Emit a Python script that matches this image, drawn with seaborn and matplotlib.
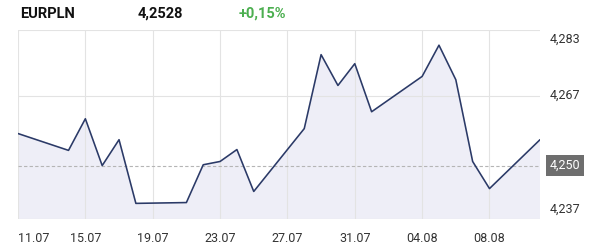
import matplotlib
matplotlib.use("Agg")
import matplotlib.pyplot as plt
import seaborn as sns
import pandas as pd

dates = ["2025-07-11", "2025-07-14", "2025-07-15", "2025-07-16", "2025-07-17",
         "2025-07-18", "2025-07-21", "2025-07-22", "2025-07-23", "2025-07-24",
         "2025-07-25", "2025-07-28", "2025-07-29", "2025-07-30", "2025-07-31",
         "2025-08-01", "2025-08-04", "2025-08-05", "2025-08-06", "2025-08-07",
         "2025-08-08", "2025-08-11"]
values = [4.2578, 4.2537, 4.2614, 4.2500, 4.2563,
          4.2408, 4.2410, 4.2502, 4.2510, 4.2539,
          4.2437, 4.2590, 4.2770, 4.2695, 4.2748,
          4.2631, 4.2717, 4.2793, 4.2709, 4.2510,
          4.2444, 4.2563]
tick_dates = ["2025-07-11", "2025-07-15", "2025-07-19", "2025-07-23",
              "2025-07-27", "2025-07-31", "2025-08-04", "2025-08-08"]
tick_labels = ["11.07", "15.07", "19.07", "23.07", "27.07", "31.07", "04.08", "08.08"]
y_ticks = [4.237, 4.267, 4.283]
y_labels = ["4,237", "4,267", "4,283"]
ref_value = 4.250
ref_label = "4,250"
symbol = "EURPLN"
last_price = "4,2528"
change = "+0,15%"

sns.set_theme(style="white")
plt.rcParams['font.family'] = ['Roboto', 'DejaVu Sans']

df = pd.DataFrame({"date": pd.to_datetime(dates), "value": values})

fig = plt.figure(figsize=(6, 2.5), dpi=100)
ax = fig.add_axes([18/600, 31/250, 522/600, 189/250])

line_color = "#2b3a67"
ax.fill_between(df["date"], df["value"], 4.2, color="#eeeef7", zorder=1)
sns.lineplot(data=df, x="date", y="value", ax=ax, color=line_color, linewidth=1.15, zorder=3)

x0 = pd.Timestamp("2025-07-11")
x1 = pd.Timestamp("2025-08-11")
ax.set_xlim(x0, x1)
ax.set_ylim(4.237, 4.283)

grid_c = "#e3e3e3"
for t in pd.to_datetime(tick_dates):
    ax.axvline(t, color=grid_c, lw=0.8, zorder=2)
for v in y_ticks:
    ax.axhline(v, color=grid_c, lw=0.8, zorder=2)
ax.axhline(ref_value, color="#b5b5b5", lw=0.8, ls=(0, (3, 2)), zorder=2)

for s in ax.spines.values():
    s.set_visible(False)
ax.set_xlabel("")
ax.set_ylabel("")
ax.set_yticks([])
ax.set_xticks(pd.to_datetime(tick_dates))
ax.set_xticklabels(tick_labels, fontsize=9, color="#333333")
ax.tick_params(axis="x", length=0, pad=9)
ax.get_xticklabels()[0].set_horizontalalignment("left")

# y labels on right
for v, lab in zip(y_ticks, y_labels):
    va = "center"
    dy = 0
    if v == y_ticks[-1]:
        va, dy = "top", -2
    elif v == y_ticks[0]:
        va, dy = "bottom", 2
    ax.annotate(lab, xy=(1, v), xycoords=("axes fraction", "data"),
                xytext=(7.2, dy), textcoords="offset points", ha="left", va=va,
                fontsize=9, color="#333333")
ax.annotate(ref_label, xy=(1, ref_value), xycoords=("axes fraction", "data"),
            xytext=(7.2, 0), textcoords="offset points", ha="left", va="center",
            fontsize=9, color="white",
            bbox=dict(boxstyle="square,pad=0.3", fc="#6e6e6e", ec="none"))

fig.text(20/600, 1 - 14/250, symbol, fontsize=10.5, fontweight="bold", color="#111111", va="center", ha="left")
fig.text(138/600, 1 - 14/250, last_price, fontsize=10.5, fontweight="bold", color="#111111", va="center", ha="left")
fig.text(239/600, 1 - 14/250, change, fontsize=10.5, fontweight="bold", color="#4caf50", va="center", ha="left")

fig.savefig("out.png", dpi=100)
